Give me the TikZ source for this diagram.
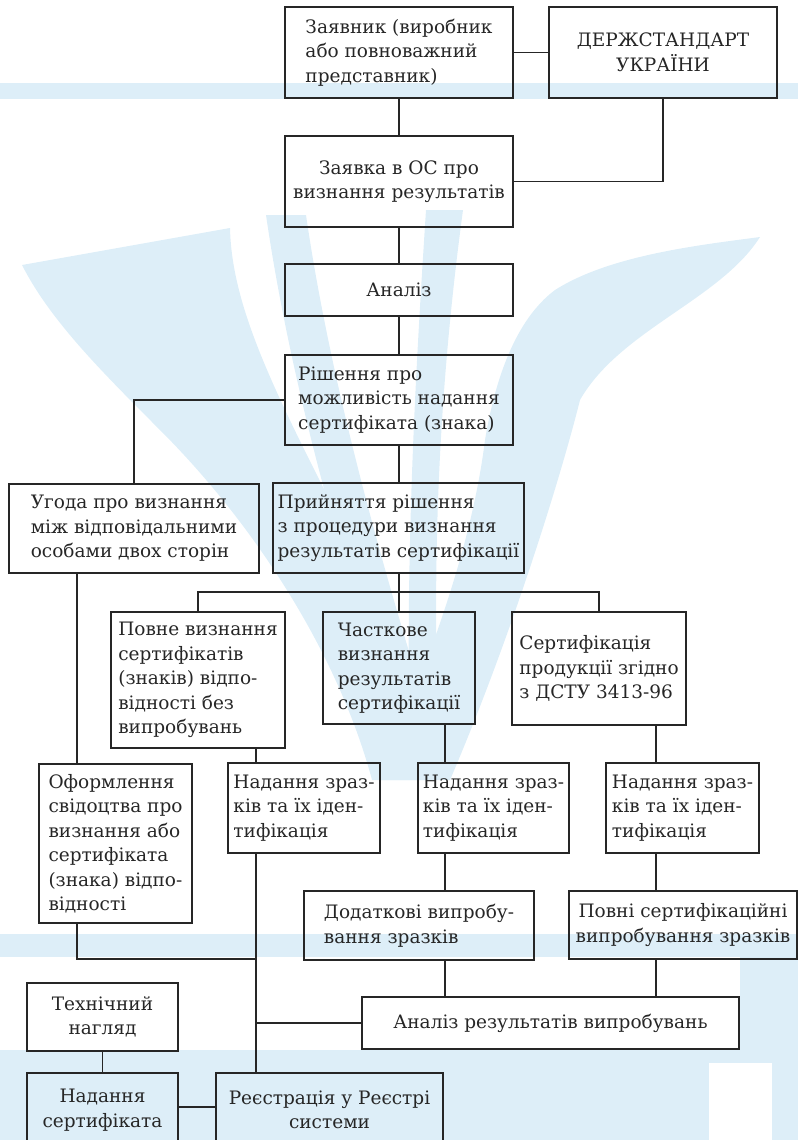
\documentclass[tikz,border=0pt]{standalone}
\usepackage{fontspec}
\setmainfont{DejaVu Serif}
\definecolor{wm}{HTML}{DDEEF8}
\definecolor{ink}{HTML}{262626}
\begin{document}
\begin{tikzpicture}[x=1pt,y=-1pt,
  bx/.style={draw=ink, line width=1.7pt, rectangle, inner sep=0pt, text=ink,
             font=\fontsize{18.5}{24.5}\selectfont},
  ln/.style={draw=ink, line width=1.7pt},
  wmfill/.style={fill=wm, draw=none}]
\useasboundingbox (0,0) rectangle (798,1140);
\clip (0,0) rectangle (798,1140);
% ---------- watermark ----------
\fill[wmfill] (0,83) rectangle (798,99);
\fill[wmfill] (0,934) rectangle (798,957);
% left wing
\fill[wmfill] (22,265) -- (230,228) .. controls (232,320) and (290,420) .. (370,580)
   .. controls (405,660) and (420,720) .. (430,780) -- (372,780)
   .. controls (340,660) and (260,530) .. (160,430)
   .. controls (100,370) and (50,320) .. cycle;
% right wing
\fill[wmfill] (760,237) .. controls (700,245) and (610,255) .. (555,290)
   .. controls (515,320) and (495,380) .. (485,440)
   .. controls (470,560) and (420,680) .. (380,780) -- (450,780)
   .. controls (510,640) and (560,480) .. (580,400)
   .. controls (620,330) and (720,300) .. cycle;
% inner strokes
\fill[wmfill] (266,215) -- (306,215) .. controls (330,380) and (380,560) .. (430,720) -- (400,740)
   .. controls (340,560) and (290,380) .. cycle;
\fill[wmfill] (426,210) -- (463,210) .. controls (440,380) and (430,560) .. (440,760) -- (410,760)
   .. controls (405,560) and (415,380) .. cycle;
% bottom
\fill[wmfill] (0,1050) rectangle (798,1140);
\fill[wmfill] (740,957) rectangle (798,1050);
\fill[white] (709,1063) rectangle (772,1140);
% ---------- boxes ----------
\node[bx, minimum width=228pt, minimum height=91pt, align=left] (zay) at (399,52.5)
  {Заявник (виробник\\або повноважний\\представник)};
\node[bx, minimum width=228pt, minimum height=91pt, align=center] (derzh) at (663,52.5)
  {ДЕРЖСТАНДАРТ\\УКРАЇНИ};
\node[bx, minimum width=228pt, minimum height=91pt, align=center] (zayavka) at (399,181.5)
  {Заявка в ОС про\\визнання результатів};
\node[bx, minimum width=228pt, minimum height=52pt, align=center] (analiz) at (399,290)
  {Аналіз};
\node[bx, minimum width=228pt, minimum height=90pt, align=left] (rish) at (399,400)
  {Рішення про\\можливість надання\\сертифіката (знака)};
\node[bx, minimum width=250pt, minimum height=89pt, align=left] (uhoda) at (134,528.5)
  {Угода про визнання\\між відповідальними\\особами двох сторін};
\node[bx, minimum width=251pt, minimum height=90pt, align=left] (pryin) at (398.5,528)
  {Прийняття рішення\\з процедури визнання\\результатів сертифікації};
\node[bx, minimum width=174pt, minimum height=136pt, align=left] (povne) at (198,680)
  {Повне визнання\\сертифікатів\\(знаків) відпо-\\відності без\\випробувань};
\node[bx, minimum width=152pt, minimum height=112pt, align=left] (chast) at (399,668)
  {Часткове\\визнання\\результатів\\сертифікації};
\node[bx, minimum width=174pt, minimum height=113pt, align=left] (sert) at (599,668.5)
  {Сертифікація\\продукції згідно\\з ДСТУ 3413-96};
\node[bx, minimum width=153pt, minimum height=159pt, align=left] (oform) at (115.5,843.5)
  {Оформлення\\свідоцтва про\\визнання або\\сертифіката\\(знака) відпо-\\відності};
\node[bx, minimum width=152pt, minimum height=90pt, align=left] (nad1) at (304,808)
  {Надання зраз-\\ків та їх іден-\\тифікація};
\node[bx, minimum width=151pt, minimum height=90pt, align=left] (nad2) at (493.5,808)
  {Надання зраз-\\ків та їх іден-\\тифікація};
\node[bx, minimum width=153pt, minimum height=90pt, align=left] (nad3) at (682.5,808)
  {Надання зраз-\\ків та їх іден-\\тифікація};
\node[bx, minimum width=230pt, minimum height=69pt, align=left] (dodat) at (419,925.5)
  {Додаткові випробу-\\вання зразків};
\node[bx, minimum width=228pt, minimum height=68pt, align=center] (povni) at (683,925)
  {Повні сертифікаційні\\випробування зразків};
\node[bx, minimum width=377pt, minimum height=52pt, align=center] (analizres) at (550.5,1023)
  {Аналіз результатів випробувань};
\node[bx, minimum width=151pt, minimum height=68pt, align=center] (tekh) at (102.5,1017)
  {Технічний\\нагляд};
\node[bx, minimum width=151pt, minimum height=74pt, align=center] (nadsert) at (102.5,1110)
  {Надання\\сертифіката};
\node[bx, minimum width=227pt, minimum height=74pt, align=center] (reyestr) at (329.5,1110)
  {Реєстрація у Реєстрі\\системи};
% ---------- connectors ----------
\coordinate (bus) at (399,592);
\coordinate (cU) at (77,0);
\coordinate (cA) at (256,0);
\coordinate (cB) at (445,0);
\coordinate (cC) at (656,0);
\coordinate (j1) at (256,959);
\coordinate (cD) at (0,1107);
\draw[ln] (zay.east) -- (derzh.west);
\draw[ln] (zay.south) -- (zayavka.north);
\draw[ln] (derzh.south) |- (zayavka.east);
\draw[ln] (zayavka.south) -- (analiz.north);
\draw[ln] (analiz.south) -- (rish.north);
\draw[ln] (rish.west) -| (uhoda.north);
\draw[ln] (rish.south) -- (rish.south |- pryin.north);
\draw[ln] (pryin.south -| bus) -- (bus) -- (bus |- chast.north);
\draw[ln] (povne.north) |- (bus) -| (sert.north);
\draw[ln] (uhoda.south -| cU) -- (oform.north -| cU);
\draw[ln] (povne.south -| cA) -- (nad1.north -| cA);
\draw[ln] (nad1.south -| cA) -- (reyestr.north -| cA);
\draw[ln] (oform.south -| cU) |- (j1);
\draw[ln] (analizres.west -| cA) -- (analizres.west);
\draw[ln] (chast.south -| cB) -- (nad2.north -| cB);
\draw[ln] (nad2.south -| cB) -- (dodat.north -| cB);
\draw[ln] (dodat.south -| cB) -- (analizres.north -| cB);
\draw[ln] (sert.south -| cC) -- (nad3.north -| cC);
\draw[ln] (nad3.south -| cC) -- (povni.north -| cC);
\draw[ln] (povni.south -| cC) -- (analizres.north -| cC);
\draw[ln] (tekh.south) -- (nadsert.north);
\draw[ln] (nadsert.east |- cD) -- (reyestr.west |- cD);
\end{tikzpicture}
\end{document}
